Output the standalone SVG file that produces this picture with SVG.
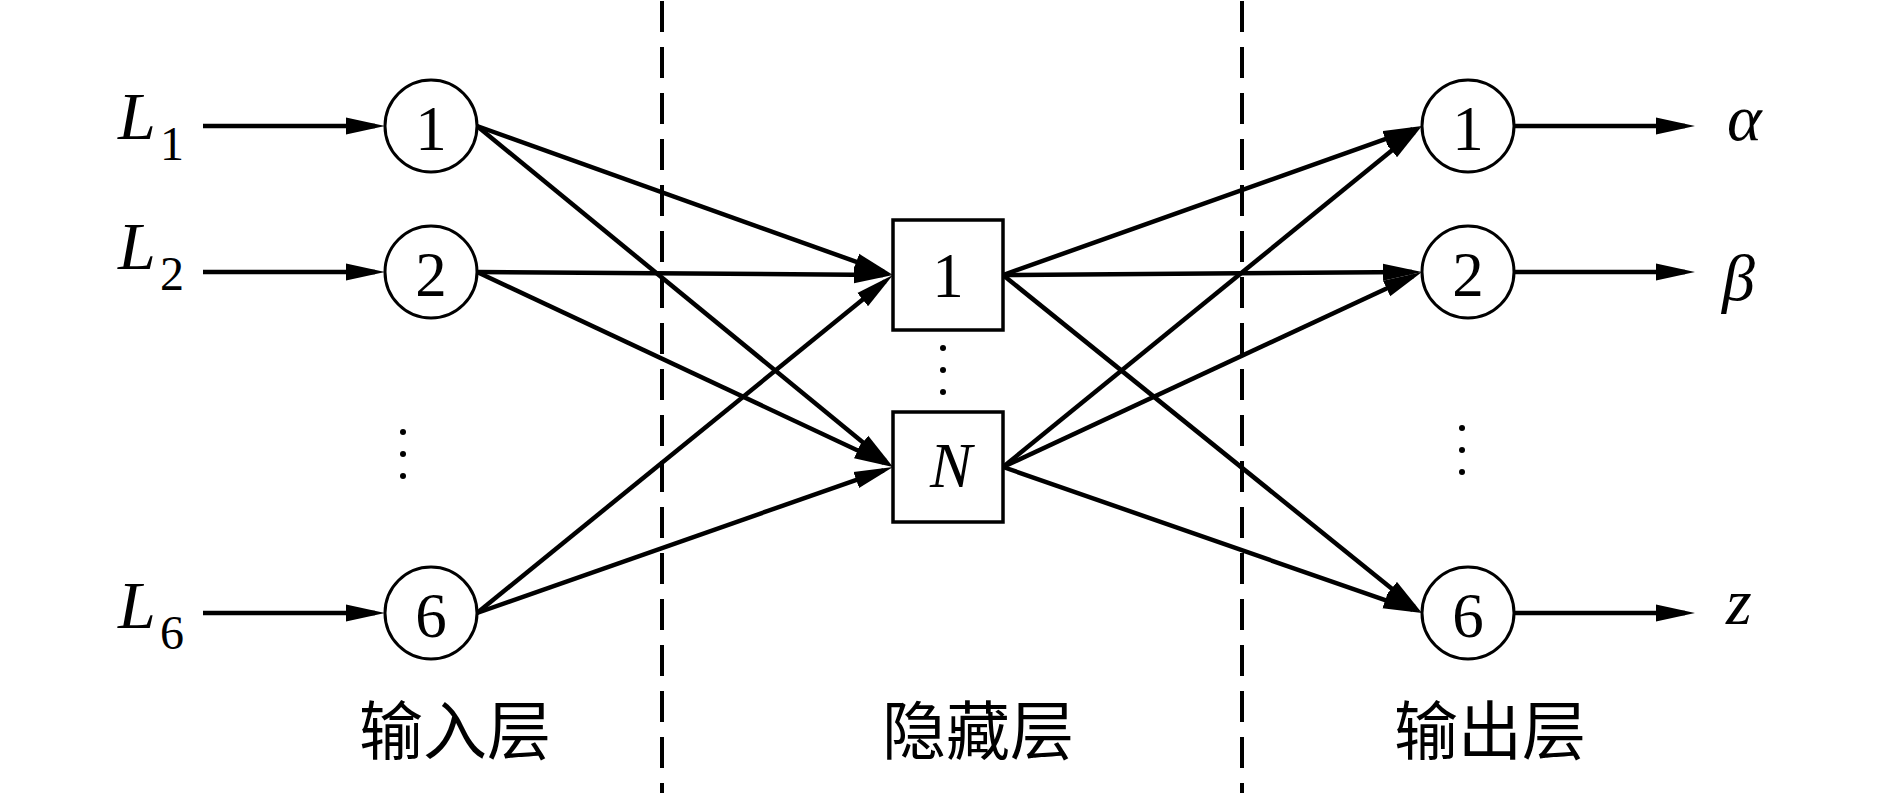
<svg xmlns="http://www.w3.org/2000/svg" width="1890" height="793" viewBox="0 0 1890 793">
<defs>
<style>
.node{fill:#fff;stroke:#000;stroke-width:3}
.box{fill:#fff;stroke:#000;stroke-width:3.5}
.num{font-family:"Liberation Serif",serif;font-size:63px;text-anchor:middle;fill:#000}
.it{font-family:"Liberation Serif",serif;font-style:italic;fill:#000}
.sub{font-family:"Liberation Serif",serif;font-size:48px;fill:#000}
.cn{font-family:"Noto Sans CJK SC",sans-serif;font-size:64px;text-anchor:middle;fill:#000}
.conn line{stroke:#000;stroke-width:4.5;marker-end:url(#ah)}
.dash{stroke:#000;stroke-width:4;stroke-dasharray:31 15}
.dot{fill:#000}
</style>
<marker id="ah" markerUnits="userSpaceOnUse" markerWidth="40" markerHeight="18" viewBox="0 0 40 18" refX="29" refY="9" orient="auto">
<path d="M0,0.5 L39,9 L0,17.5 z" fill="#000"/>
</marker>
</defs>
<rect width="1890" height="793" fill="#fff"/>

<g id="dividers">
<line class="dash" x1="662" y1="1" x2="662" y2="793"/>
<line class="dash" x1="1242" y1="1" x2="1242" y2="793"/>
</g>

<g id="connectors" class="conn">
<line x1="203" y1="126" x2="375" y2="126"/>
<line x1="203" y1="272" x2="375" y2="272"/>
<line x1="203" y1="613" x2="375" y2="613"/>
<line x1="477" y1="126" x2="883.6" y2="271.6"/>
<line x1="477" y1="126" x2="885.3" y2="460.7"/>
<line x1="477" y1="272" x2="883" y2="274.9"/>
<line x1="477" y1="272" x2="883.9" y2="462.8"/>
<line x1="477" y1="613" x2="885.2" y2="281.3"/>
<line x1="477" y1="613" x2="883.6" y2="470.3"/>
<line x1="1003" y1="275" x2="1412.6" y2="129.4"/>
<line x1="1003" y1="275" x2="1412" y2="272.1"/>
<line x1="1003" y1="275" x2="1414.2" y2="606.7"/>
<line x1="1003" y1="467" x2="1414.2" y2="132.3"/>
<line x1="1003" y1="467" x2="1412.9" y2="276.2"/>
<line x1="1003" y1="467" x2="1412.6" y2="609.7"/>
<line x1="1514" y1="126" x2="1685" y2="126"/>
<line x1="1514" y1="272" x2="1685" y2="272"/>
<line x1="1514" y1="613" x2="1685" y2="613"/>
</g>

<g id="in1"><circle class="node" cx="431" cy="126" r="46"/><text class="num" x="431" y="150">1</text></g>
<g id="in2"><circle class="node" cx="431" cy="272" r="46"/><text class="num" x="431" y="296">2</text></g>
<g id="in6"><circle class="node" cx="431" cy="613" r="46"/><text class="num" x="431" y="637">6</text></g>
<g id="in-dots"><circle class="dot" cx="403" cy="432" r="3"/><circle class="dot" cx="403" cy="454" r="3"/><circle class="dot" cx="403" cy="476" r="3"/></g>

<g id="h1"><rect class="box" x="893" y="220" width="110" height="110"/><text class="num" x="948" y="297">1</text></g>
<g id="hN"><rect class="box" x="893" y="412" width="110" height="110"/><text class="it" x="951" y="487" font-size="63" text-anchor="middle">N</text></g>
<g id="h-dots"><circle class="dot" cx="943" cy="348" r="3"/><circle class="dot" cx="943" cy="370" r="3"/><circle class="dot" cx="943" cy="392" r="3"/></g>

<g id="out1"><circle class="node" cx="1468" cy="126" r="46"/><text class="num" x="1468" y="150">1</text></g>
<g id="out2"><circle class="node" cx="1468" cy="272" r="46"/><text class="num" x="1468" y="296">2</text></g>
<g id="out6"><circle class="node" cx="1468" cy="613" r="46"/><text class="num" x="1468" y="637">6</text></g>
<g id="out-dots"><circle class="dot" cx="1462" cy="428" r="3"/><circle class="dot" cx="1462" cy="450" r="3"/><circle class="dot" cx="1462" cy="472" r="3"/></g>

<g id="inputs">
<text class="it" x="118" y="139" font-size="68">L</text><text class="sub" x="160" y="160">1</text>
<text class="it" x="118" y="269" font-size="68">L</text><text class="sub" x="160" y="290">2</text>
<text class="it" x="118" y="628" font-size="68">L</text><text class="sub" x="160" y="649">6</text>
</g>

<g id="outputs">
<text class="it" x="1727" y="140" font-size="66">α</text>
<text class="it" x="1722" y="300" font-size="66">β</text>
<text class="it" x="1726" y="624" font-size="66">z</text>
</g>

<g id="labels">
<text class="cn" x="455" y="754">输入层</text>
<text class="cn" x="978" y="754">隐藏层</text>
<text class="cn" x="1490" y="754">输出层</text>
</g>
</svg>
